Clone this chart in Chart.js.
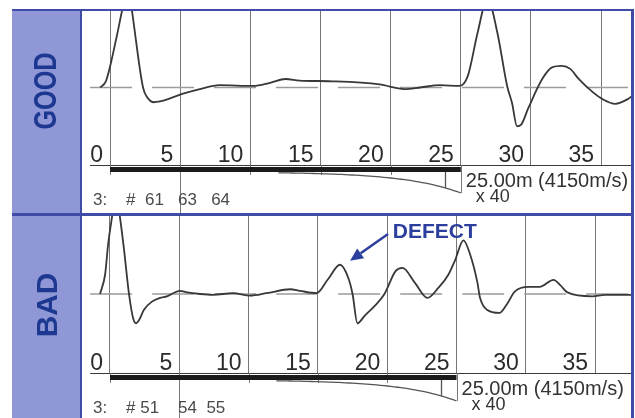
<!DOCTYPE html>
<html lang="pt-BR">
<head>
<meta charset="UTF-8">
<title>Ensaio de integridade - GOOD / BAD</title>
<script src="https://cdn.jsdelivr.net/npm/chart.js@4.4.1/dist/chart.umd.min.js"></script>
<style>
    body { margin: 0; background: #fff; font-family: "Liberation Sans", Arial, sans-serif; }
    #quadro { position: relative; width: 635px; height: 418px; overflow: hidden; }
    #faixa { position: absolute; left: 12px; top: 10px; width: 68px; height: 408px; background: #8f97d7; border-right: 2px solid #3f4ba6; }
    .borda { position: absolute; background: #3f4ba6; }
    #borda-topo { left: 12px; top: 9px; width: 622px; height: 2px; }
    #borda-meio { left: 12px; top: 213px; width: 622px; height: 3px; }
    #borda-direita { left: 631px; top: 9px; width: 3px; height: 409px; }
    .rotulo { position: absolute; width: 120px; height: 34px; line-height: 34px; text-align: center; font-weight: bold; color: #1d3890; }
    .rotulo span { display: inline-block; }
    #rotulo-good { left: -15px; top: 74px; font-size: 32px; }
    #rotulo-good span { transform: rotate(-90deg) scaleX(0.79); }
    #rotulo-bad { left: -13px; top: 288px; font-size: 29px; }
    #rotulo-bad span { transform: rotate(-90deg) scaleX(1.03); }
    canvas { position: absolute; left: 82px; }
    #grafico-good { top: 10px; }
    #grafico-bad { top: 215px; }
</style>
</head>
<body>
<div id="quadro">
    <div id="faixa"></div>
    <canvas id="grafico-good" width="550" height="204"></canvas>
    <canvas id="grafico-bad" width="550" height="203"></canvas>
    <div class="borda" id="borda-topo"></div>
    <div class="borda" id="borda-meio"></div>
    <div class="borda" id="borda-direita"></div>
    <div class="rotulo" id="rotulo-good"><span>GOOD</span></div>
    <div class="rotulo" id="rotulo-bad"><span>BAD</span></div>
</div>

<script>
// marcas do eixo (m)
const marcasX = [0, 5, 10, 15, 20, 25, 30, 35];

// sinal da estaca boa
const goodX = [-0.71, -0.3, 0, 0.5, 1.0, 1.35, 1.57, 2.35, 2.7, 3.07, 3.56, 4.28, 5.2, 6.4, 7.8, 10.2, 11.4, 12.5, 13.5,
    15.8, 19.2, 21.0, 22.1, 23.5, 24.9, 25.5, 26.2, 26.9, 27.6, 28.3, 28.65, 29.0, 29.3, 29.8, 30.8, 31.5, 32.2, 32.8,
    33.4, 34.4, 35.1, 36.0, 36.9, 37.2];
const goodY = [0, 0.08, 0.27, 0.68, 1.1, 1.25, 0.98, 0, -0.14, -0.19, -0.18, -0.14, -0.08, -0.02, 0.03, 0.02, 0.06, 0.11, 0.09,
    0.08, 0.04, -0.02, 0, 0.03, 0.02, 0.15, 0.71, 1.15, 0.71, 0.02, -0.2, -0.5, -0.48, -0.27, 0.11, 0.26, 0.28, 0.24,
    0.11, -0.06, -0.15, -0.21, -0.15, -0.11];

// sinal da estaca com defeito
const badX = [-0.72, -0.35, -0.14, 0.14, 0.43, 0.72, 1.0, 1.37, 1.66, 1.88, 2.1, 2.45, 3.0, 3.6, 4.11, 5.05, 5.56, 6.5,
    7.43, 8.87, 10.1, 11.3, 13.0, 13.7, 14.9, 15.7, 16.6, 17.2, 17.5, 17.85, 18.4, 19.1, 19.8, 20.6, 21.1, 22.0, 22.9,
    23.7, 24.4, 24.9, 25.5, 26.0, 26.5, 26.7, 27.2, 28.1, 28.6, 29.2, 30.2, 31.0, 32.0, 32.5, 33.0, 34.8, 35.7, 37.7];
const badY = [0, 0.25, 0.62, 0.97, 1.3, 0.97, 0.58, 0, -0.3, -0.37, -0.33, -0.2, -0.1, -0.05, -0.03, 0.04, 0.02, 0,
    -0.01, 0.01, -0.02, 0.01, 0.06, 0.04, 0.01, 0.18, 0.37, 0.2, 0, -0.37, -0.27, -0.15, 0, 0.29, 0.33, 0.14, -0.05,
    0.08, 0.24, 0.43, 0.68, 0.49, 0.15, -0.05, -0.2, -0.24, -0.14, 0.03, 0.09, 0.09, 0.18, 0.11, 0.02, -0.03, -0.01, -0.01];

const comprimentoEstaca = 25;
const marcadorPonta = 23.9;
const inicioLinhaBase = -1.43;
const legendaEstaca = '25.00m (4150m/s)';
const legendaGanho = 'x 40';
const legendaGood = '3:    #  61   63   64';
const legendaBad = '3:    # 51    54  55';

const fonte = '"Liberation Sans", Arial, sans-serif';

const decoracaoPlugin = {
    id: 'decoracao',
    afterDatasetsDraw(chart, args, opts) {
        const { ctx, chartArea } = chart;
        const x = chart.scales.x;
        const y = chart.scales.y;
        const base = chartArea.bottom;
        const xIni = x.getPixelForValue(0);
        const xFim = x.getPixelForValue(opts.comprimento);
        const k = Math.exp(opts.comprimento / 4) - 1;
        const cunha = v => base + 7 + 21 * (Math.exp(v / 4) - 1) / k;

        ctx.save();
        // linha do eixo
        ctx.strokeStyle = '#3a3a3a';
        ctx.lineWidth = 1;
        ctx.beginPath();
        ctx.moveTo(x.getPixelForValue(inicioLinhaBase), Math.round(base) + 0.5);
        ctx.lineTo(chartArea.right, Math.round(base) + 0.5);
        ctx.stroke();

        // linhas verticais continuam abaixo do eixo
        ctx.strokeStyle = '#777';
        marcasX.forEach(v => {
            if (v > opts.comprimento) return;
            const px = Math.round(x.getPixelForValue(v)) + 0.5;
            let ate = base + 10;
            if (v === 5) ate = chart.height;
            if (v === opts.comprimento) ate = cunha(v);
            ctx.beginPath();
            ctx.moveTo(px, base);
            ctx.lineTo(px, ate);
            ctx.stroke();
        });

        // barra do comprimento da estaca
        ctx.fillStyle = '#1b1b1b';
        ctx.fillRect(xIni, base + 2, xFim - xIni, 5);

        // curva de amplificacao
        ctx.strokeStyle = '#555';
        ctx.lineWidth = 1.3;
        ctx.beginPath();
        for (let v = 12; v <= opts.comprimento + 0.001; v += 0.25) {
            const px = x.getPixelForValue(v);
            if (v === 12) ctx.moveTo(px, cunha(v)); else ctx.lineTo(px, cunha(v));
        }
        ctx.stroke();
        const pm = Math.round(x.getPixelForValue(opts.marcador)) + 0.5;
        ctx.beginPath();
        ctx.moveTo(pm, base + 7);
        ctx.lineTo(pm, cunha(opts.marcador));
        ctx.stroke();

        // textos
        ctx.textAlign = 'left';
        ctx.textBaseline = 'alphabetic';
        ctx.fillStyle = '#333';
        ctx.font = '20px ' + fonte;
        ctx.fillText(opts.legenda, xFim + 5, base + 22);
        ctx.font = '18px ' + fonte;
        ctx.fillText(opts.ganho, xFim + 15, base + 37);
        ctx.fillStyle = '#4a4a4a';
        ctx.font = '17px ' + fonte;
        ctx.fillText(opts.rotulo, chartArea.left + 11, base + 40);

        // seta do defeito
        if (opts.defeito) {
            const d = opts.defeito;
            const ax = x.getPixelForValue(d.de[0]), ay = y.getPixelForValue(d.de[1]);
            const bx = x.getPixelForValue(d.para[0]), by = y.getPixelForValue(d.para[1]);
            const ang = Math.atan2(by - ay, bx - ax);
            const cab = 13;
            const cx = bx - cab * Math.cos(ang), cy = by - cab * Math.sin(ang);
            ctx.strokeStyle = '#2c3f9e';
            ctx.fillStyle = '#2c3f9e';
            ctx.lineWidth = 2.5;
            ctx.beginPath();
            ctx.moveTo(ax, ay);
            ctx.lineTo(cx, cy);
            ctx.stroke();
            ctx.beginPath();
            ctx.moveTo(bx, by);
            ctx.lineTo(cx + 6 * Math.sin(ang), cy - 6 * Math.cos(ang));
            ctx.lineTo(cx - 6 * Math.sin(ang), cy + 6 * Math.cos(ang));
            ctx.closePath();
            ctx.fill();
            ctx.font = 'bold 21px ' + fonte;
            ctx.fillText(d.texto, x.getPixelForValue(d.pos[0]), y.getPixelForValue(d.pos[1]));
        }
        ctx.restore();
    }
};

document.addEventListener("DOMContentLoaded", function () {
    criarGrafico('grafico-good', goodX, goodY, -2.0, 37.2, 49, {
        comprimento: comprimentoEstaca, marcador: marcadorPonta,
        legenda: legendaEstaca, ganho: legendaGanho, rotulo: legendaGood
    });
    criarGrafico('grafico-bad', badX, badY, -2.02, 37.66, 45, {
        comprimento: comprimentoEstaca, marcador: marcadorPonta,
        legenda: legendaEstaca, ganho: legendaGanho, rotulo: legendaBad,
        defeito: { texto: 'DEFECT', pos: [20.4, 0.71], de: [20.06, 0.76], para: [17.32, 0.42] }
    });
});

function criarGrafico(id, xs, ys, xMin, xMax, padBaixo, extras) {
    const ctx = document.getElementById(id).getContext('2d');
    const pontos = xs.map((v, i) => ({ x: v, y: ys[i] }));

    new Chart(ctx, {
        type: 'line',
        data: {
            datasets: [{
                data: pontos,
                borderColor: '#383838',
                borderWidth: 1.8,
                pointRadius: 0,
                cubicInterpolationMode: 'monotone',
                fill: false
            }, {
                data: [{ x: inicioLinhaBase, y: 0 }, { x: xMax, y: 0 }],
                borderColor: '#9b9b9b',
                borderWidth: 1.5,
                borderDash: [42, 20],
                pointRadius: 0,
                fill: false
            }]
        },
        options: {
            responsive: false,
            animation: false,
            layout: { padding: { left: 0, right: 0, top: 0, bottom: padBaixo } },
            plugins: {
                legend: { display: false },
                tooltip: { enabled: false },
                decoracao: extras
            },
            scales: {
                x: {
                    type: 'linear',
                    min: xMin,
                    max: xMax,
                    afterBuildTicks: s => { s.ticks = marcasX.map(v => ({ value: v })); },
                    afterFit: s => { s.height = 0; },
                    grid: { color: '#777', lineWidth: 1, drawTicks: false },
                    border: { display: false },
                    ticks: {
                        mirror: true,
                        align: 'end',
                        labelOffset: -7,
                        padding: -4,
                        color: '#2b2b2b',
                        font: { family: fonte, size: 23 }
                    }
                },
                y: { display: false, min: -1, max: 1 }
            }
        },
        plugins: [decoracaoPlugin]
    });
}
</script>
</body>
</html>
